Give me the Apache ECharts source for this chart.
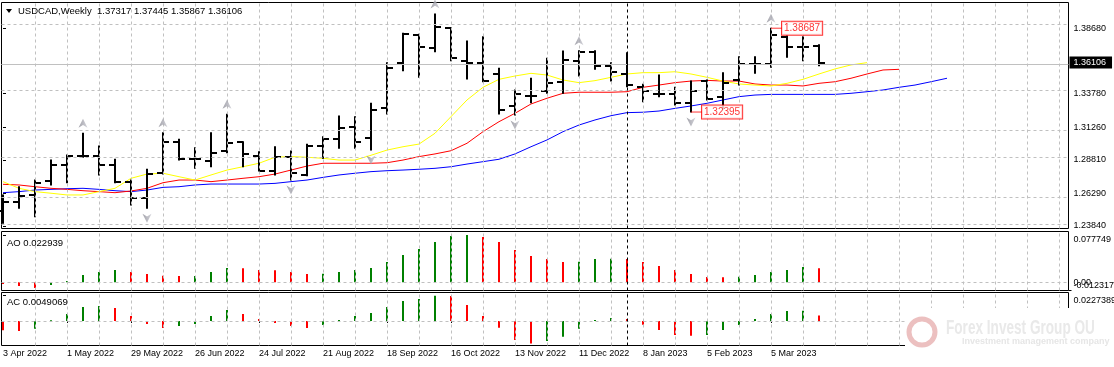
<!DOCTYPE html>
<html><head><meta charset="utf-8">
<script src="https://cdn.jsdelivr.net/npm/echarts@6/dist/echarts.min.js"></script>
<style>html,body{margin:0;padding:0;background:#fff}#c{width:1114px;height:367px}</style>
</head><body><div id="c"></div><script>
const symbolName = 'USDCAD', timeframe = 'Weekly';
// weekly OHLC, bar 0 = week of 3 Apr 2022
const open  = [1.2497,1.2566,1.2617,1.2724,1.2842,1.2908,1.2910,1.2842,1.2717,1.2592,1.2780,1.3017,1.2885,1.2874,1.2949,1.3012,1.2912,1.2797,1.2905,1.2767,1.2987,1.3035,1.3125,1.3042,1.3268,1.3605,1.3818,1.3722,1.3868,1.3623,1.3605,1.3525,1.3285,1.3362,1.3400,1.3467,1.3625,1.3688,1.3587,1.3525,1.3425,1.3377,1.3373,1.3310,1.3475,1.3350,1.3480,1.3598,1.3598,1.3800,1.3725,1.37317];
const high  = [1.2617,1.2679,1.2729,1.2879,1.2917,1.3080,1.2985,1.2885,1.2729,1.2810,1.3084,1.3035,1.2972,1.3084,1.3222,1.3017,1.2942,1.2979,1.2947,1.2997,1.3054,1.3210,1.3205,1.3305,1.3610,1.3830,1.3823,1.3975,1.3873,1.3773,1.3805,1.3568,1.3405,1.3493,1.3643,1.3698,1.3700,1.3700,1.3610,1.3685,1.3448,1.3517,1.3425,1.3472,1.3480,1.3535,1.3655,1.3655,1.38687,1.3810,1.3805,1.37445];
const low   = [1.2404,1.2517,1.2454,1.2692,1.2709,1.2900,1.2767,1.2709,1.2542,1.2517,1.2774,1.2879,1.2817,1.2829,1.2934,1.2829,1.2797,1.2767,1.2729,1.2762,1.2892,1.2967,1.2967,1.2954,1.3225,1.3550,1.3500,1.3692,1.3625,1.3487,1.3467,1.3225,1.3217,1.3310,1.3380,1.3380,1.3510,1.3560,1.3472,1.3430,1.3317,1.3355,1.3292,1.32395,1.3330,1.3262,1.3442,1.3530,1.3575,1.3650,1.3625,1.35867];
const close = [1.2566,1.2609,1.2705,1.2842,1.2910,1.2912,1.2842,1.2717,1.2592,1.2774,1.3017,1.2885,1.2885,1.2934,1.3009,1.2922,1.2797,1.2905,1.2780,1.2987,1.3040,1.3117,1.3012,1.3254,1.3572,1.3823,1.3730,1.3876,1.3643,1.3605,1.3472,1.3255,1.3373,1.3362,1.3455,1.3630,1.3692,1.3585,1.3538,1.3442,1.3397,1.3377,1.3305,1.3400,1.3337,1.3460,1.3598,1.3598,1.3818,1.3725,1.3725,1.36106];
// Alligator lines (already shifted forward: jaw 8, teeth 5, lips 3 bars)
const jaw   = [1.2634,1.2642,1.2654,1.2659,1.2664,1.2667,1.2659,1.2649,1.2642,1.2654,1.2674,1.2679,1.2692,1.2699,1.2699,1.2699,1.2699,1.2704,1.2717,1.2729,1.2749,1.2767,1.2780,1.2792,1.2799,1.2804,1.2810,1.2817,1.2829,1.2849,1.2867,1.2885,1.2925,1.2979,1.3030,1.3092,1.3142,1.3180,1.3212,1.3235,1.3238,1.3247,1.3267,1.3285,1.3305,1.3330,1.3355,1.3367,1.3372,1.3372,1.3372,1.3372,1.3372,1.3380,1.3392,1.3405,1.3425,1.3442,1.3467,1.3493];
const teeth = [1.2697,1.2692,1.2679,1.2667,1.2659,1.2649,1.2642,1.2634,1.2647,1.2667,1.2709,1.2729,1.2729,1.2717,1.2729,1.2742,1.2754,1.2774,1.2804,1.2834,1.2855,1.2855,1.2855,1.2855,1.2859,1.2879,1.2905,1.2925,1.2949,1.3005,1.3092,1.3167,1.3230,1.3300,1.3343,1.3380,1.3388,1.3388,1.3388,1.3392,1.3425,1.3442,1.3460,1.3472,1.3477,1.3472,1.3472,1.3450,1.3442,1.3442,1.3435,1.3455,1.3467,1.3493,1.3525,1.3555,1.3560];
const lips  = [1.2717,1.2667,1.2642,1.2630,1.2617,1.2617,1.2642,1.2667,1.2742,1.2774,1.2780,1.2754,1.2729,1.2767,1.2804,1.2829,1.2855,1.2900,1.2905,1.2900,1.2892,1.2879,1.2879,1.2915,1.2954,1.2979,1.2999,1.3080,1.3205,1.3330,1.3425,1.3485,1.3510,1.3530,1.3517,1.3480,1.3460,1.3475,1.3500,1.3525,1.3535,1.3535,1.3542,1.3525,1.3500,1.3472,1.3450,1.3442,1.3435,1.3455,1.3485,1.3525,1.3563,1.3593,1.3610];
// Awesome Oscillator and Accelerator Oscillator
const ao = [-0.0027,-0.0060,-0.0093,-0.0044,0.0022,0.0121,0.0170,0.0203,0.0170,0.0137,0.0106,0.0102,0.0105,0.0170,0.0236,0.0233,0.0203,0.0200,0.0170,0.0137,0.0140,0.0170,0.0203,0.0236,0.0334,0.0449,0.0548,0.0663,0.0762,0.077749,0.0745,0.0663,0.0532,0.0433,0.0384,0.0334,0.0337,0.0384,0.0386,0.0383,0.0334,0.0269,0.0203,0.0137,0.0088,0.0085,0.0090,0.0121,0.0170,0.0203,0.0252,0.022939];
const ac = [-0.0084,-0.0090,-0.0069,0.0006,0.0063,0.0126,0.0135,0.0117,0.0045,-0.0027,-0.0063,-0.0045,-0.0027,0.0045,0.0099,0.0063,0.0018,-0.0018,-0.0045,-0.0063,-0.0036,0.0009,0.0045,0.0072,0.0126,0.0180,0.0197,0.0227389,0.0224,0.0144,0.0045,-0.0060,-0.0171,-0.0203,-0.0180,-0.0141,-0.0069,0.0009,0.0027,0.0018,-0.0033,-0.0081,-0.0126,-0.0132,-0.0126,-0.0081,-0.0036,0.0018,0.0063,0.0090,0.0092,0.0049069];
const fractalUp = [5,10,14,27,36,48];
const fractalDown = [9,18,23,32,43];
const markedHigh = 48, markedLow = 43;
const separatorBar = 39;
const dateIdx = [0,4,8,12,16,20,24,28,32,36,40,44,48];
const dateLabels = ['3 Apr 2022','1 May 2022','29 May 2022','26 Jun 2022','24 Jul 2022','21 Aug 2022','18 Sep 2022','16 Oct 2022','13 Nov 2022','11 Dec 2022','8 Jan 2023','5 Feb 2023','5 Mar 2023'];
const priceTicks = [1.38680,1.33780,1.31260,1.28810,1.26290,1.23840];
const priceGridLines = [1.38680,1.36230,1.33780,1.31260,1.28810,1.26290,1.23840];
const aoTopTick = 0.077749, aoMinTick = -0.012317;
const acTopTick = 0.0227389;

const N = close.length;
const lastPrice = close[N-1];
const X_MIN = -0.09375, X_MAX = 66.59375;
const FONT = 'Liberation Sans';
const GRID_C = '#c0c0c0';
const vGrid = []; for (let k = 2; k <= 66; k += 2) vGrid.push(k);
const dateMap = {}; dateIdx.forEach((k,i)=>dateMap[k]=dateLabels[i]);

const chart = echarts.init(document.getElementById('c'), null, {renderer:'canvas'});

function gridDef(top, height){ return {left:1.5, right:45.5, top, height, show:true, borderColor:'#000', borderWidth:1, backgroundColor:'#fff', containLabel:false, outerBoundsMode:'none'}; }
function xAx(g, labels){
  return {type:'value', gridIndex:g, min:X_MIN, max:X_MAX, splitLine:{show:false}, axisLine:{show:false},
    axisTick: labels ? {show:true, length:2, customValues:dateIdx, lineStyle:{color:'#000'}} : {show:false},
    axisLabel: labels ? {show:true, customValues:dateIdx, formatter:v=>dateMap[v]||'', align:'left', margin:4, color:'#000', fontSize:9, fontFamily:FONT} : {show:false}};
}
function yAx(g, min, max, vals, fmt, extra){
  const lab = Object.assign({show:true, customValues:vals, formatter:fmt, color:'#000', fontSize:9, fontFamily:FONT, margin:5}, (extra&&extra.label)||{});
  return {type:'value', gridIndex:g, position:'right', min, max, splitLine:{show:false}, axisLine:{show:false},
    axisTick: (extra&&extra.tick===false) ? {show:false} : {show:true, length:3, customValues:vals, lineStyle:{color:'#000'}},
    axisLabel: lab};
}
const dashed = {color:GRID_C, type:[3,3], width:1};
function mlBase(data){ return {silent:true, symbol:'none', animation:false, label:{show:false}, lineStyle:dashed, data}; }

const PR_MIN = 1.23653, PR_MAX = 1.40616;
const AO_MIN = -0.013478, AO_MAX = 0.083502;
const AC_MIN = -0.02202, AC_MAX = 0.025615;

const upPath = 'path://M5,0 L10,10 L5,7 L0,10 Z';
const dnPath = 'path://M0,0 L5,3 L10,0 L5,10 Z';
const fractalStyle = {color:{type:'linear', x:0, y:0, x2:1, y2:0, colorStops:[{offset:0, color:'#8c8c96'},{offset:1, color:'#c8c8d0'}]}};

const option = {
  animation:false,
  backgroundColor:'#fff',
  grid:[gridDef(2.5,226), gridDef(231.5,59), gridDef(292.5,53)],
  xAxis:[xAx(0,false), xAx(1,false), xAx(2,true)],
  yAxis:[
    yAx(0, PR_MIN, PR_MAX, priceTicks, v=>v.toFixed(5)),
    yAx(0, PR_MIN, PR_MAX, [lastPrice], v=>v.toFixed(5), {tick:false, label:{backgroundColor:'#000', color:'#fff', padding:[2,6,1,4], margin:1}}),
    yAx(1, AO_MIN, AO_MAX, [aoTopTick], v=>v.toFixed(6), {label:{verticalAlign:'top'}}),
    yAx(1, AO_MIN, AO_MAX, [0], v=>'0.00', {tick:false}),
    yAx(1, AO_MIN, AO_MAX, [aoMinTick], v=>v.toFixed(6), {label:{verticalAlign:'bottom'}}),
    yAx(2, AC_MIN, AC_MAX, [acTopTick], v=>v.toFixed(7), {label:{verticalAlign:'top'}})
  ],
  series:[
    {type:'line', xAxisIndex:0, yAxisIndex:0, data:[], z:1,
     markLine: mlBase([...priceGridLines.map(v=>({yAxis:v})), ...vGrid.map(k=>({xAxis:k}))])},
    {type:'line', xAxisIndex:0, yAxisIndex:0, data:[], z:2,
     markLine: mlBase([{yAxis:lastPrice, lineStyle:{color:'#c0c0c0', type:'solid', width:1}},
                       {xAxis:separatorBar, lineStyle:{color:'#000', type:[3,3], width:1}}])},
    {type:'line', name:'Jaw', xAxisIndex:0, yAxisIndex:0, z:3, symbol:'none', lineStyle:{color:'#0000ff', width:1}, data:jaw.map((v,i)=>[i,v])},
    {type:'line', name:'Teeth', xAxisIndex:0, yAxisIndex:0, z:3, symbol:'none', lineStyle:{color:'#ff0000', width:1}, data:teeth.map((v,i)=>[i,v])},
    {type:'line', name:'Lips', xAxisIndex:0, yAxisIndex:0, z:3, symbol:'none', lineStyle:{color:'#ffff00', width:1}, data:lips.map((v,i)=>[i,v])},
    {type:'custom', xAxisIndex:0, yAxisIndex:0, z:4,
     encode:{x:0, y:[1,2,3,4]},
     data: close.map((c,i)=>[i, open[i], high[i], low[i], c]),
     renderItem:(params, api)=>{
       const x = api.value(0);
       const o = api.coord([x, api.value(1)]), h = api.coord([x, api.value(2)]);
       const l = api.coord([x, api.value(3)]), c = api.coord([x, api.value(4)]);
       const cx = Math.round(h[0]);
       const st = {stroke:'#000', lineWidth:2};
       return {type:'group', children:[
         {type:'line', shape:{x1:cx, y1:h[1]-0.5, x2:cx, y2:l[1]+0.5}, style:st},
         {type:'line', shape:{x1:cx-6, y1:Math.round(o[1]), x2:cx, y2:Math.round(o[1])}, style:st},
         {type:'line', shape:{x1:cx, y1:Math.round(c[1]), x2:cx+6, y2:Math.round(c[1])}, style:st}
       ]};
     }},
    {type:'scatter', xAxisIndex:0, yAxisIndex:0, z:5, symbol:upPath, symbolSize:[9,9], symbolOffset:[0,-10],
     itemStyle:fractalStyle, data:fractalUp.map(i=>[i, high[i]])},
    {type:'scatter', xAxisIndex:0, yAxisIndex:0, z:5, symbol:dnPath, symbolSize:[9,9], symbolOffset:[0,10],
     itemStyle:fractalStyle, data:fractalDown.map(i=>[i, low[i]])},
    {type:'scatter', xAxisIndex:0, yAxisIndex:0, z:6, symbol:'rect', symbolSize:[11,1], symbolOffset:[5.5,0],
     itemStyle:{color:'#ff0000'},
     label:{show:true, position:'right', distance:0, formatter:p=>p.value[1].toFixed(5), color:'#ff0000',
            backgroundColor:'#fff', borderColor:'#ff0000', borderWidth:1, padding:[2,2,1,2], fontSize:10, fontFamily:FONT},
     data:[[markedHigh, high[markedHigh]], [markedLow, low[markedLow]]]},
    // AO pane
    {type:'bar', xAxisIndex:1, yAxisIndex:2, z:3, barWidth:2,
     data: ao.map((v,i)=>({value:[i,v], itemStyle:{color:(i>0 && v>ao[i-1]) ? '#008000' : '#ff0000'}})),
     markLine: mlBase([{yAxis:0}, ...vGrid.map(k=>({xAxis:k})), {xAxis:separatorBar, lineStyle:{color:'#000', type:[3,3], width:1}}])},
    // AC pane
    {type:'bar', xAxisIndex:2, yAxisIndex:5, z:3, barWidth:2,
     data: ac.map((v,i)=>({value:[i,v], itemStyle:{color:(i>0 && v>ac[i-1]) ? '#008000' : '#ff0000'}})),
     markLine: mlBase([{yAxis:0}, ...vGrid.map(k=>({xAxis:k})), {xAxis:separatorBar, lineStyle:{color:'#000', type:[3,3], width:1}}])}
  ],
  graphic:[
    {type:'polygon', shape:{points:[[6,9],[12,9],[9,13]]}, style:{fill:'#000'}, z:50},
    {type:'text', x:18, y:11, style:{text: symbolName+','+timeframe+'  '+[open[N-1],high[N-1],low[N-1],close[N-1]].map(v=>v.toFixed(5)).join(' '),
       font:'9.5px '+FONT, fill:'#000', verticalAlign:'middle'}, z:50},
    {type:'text', x:7, y:243.5, style:{text:'AO '+ao[N-1].toFixed(6), font:'9.5px '+FONT, fill:'#000', verticalAlign:'middle'}, z:50},
    {type:'text', x:7, y:302, style:{text:'AC '+ac[N-1].toFixed(7), font:'9.5px '+FONT, fill:'#000', verticalAlign:'middle'}, z:50},
    {type:'rect', shape:{x:905, y:308, width:209, height:59}, style:{fill:'#fff'}, z:90},
    {type:'circle', shape:{cx:922, cy:332, r:13}, style:{fill:'none', stroke:'#ecc0c0', lineWidth:5}, z:91},
    {type:'text', x:946, y:318, scaleX:0.68, style:{text:'Forex Invest Group OU', font:'bold 20px '+FONT, fill:'#e9e9e9', verticalAlign:'top'}, z:91},
    {type:'text', x:962, y:337, style:{text:'Investment management company', font:'bold 9px '+FONT, fill:'#e6e6e6', verticalAlign:'top'}, z:91}
  ]
};
chart.setOption(option);
</script></body></html>
